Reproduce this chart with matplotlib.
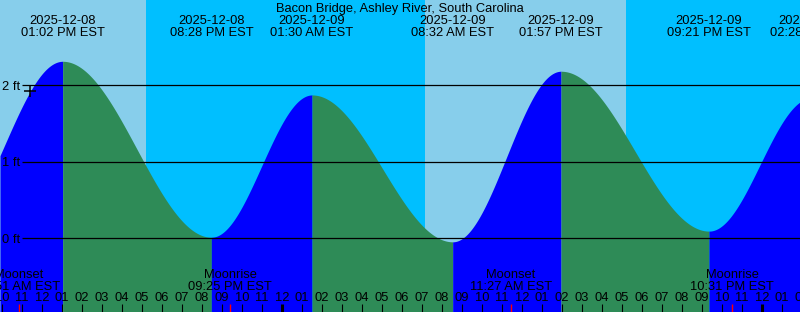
import matplotlib
matplotlib.use("Agg")
import matplotlib.pyplot as plt
import numpy as np

# hours counted from 2025-12-08 00:00 EST
title = "Bacon Bridge, Ashley River, South Carolina"

tide_hours = [7.20, 13.033, 20.467, 25.500, 32.533, 37.950, 45.350, 50.467]
tide_feet = [0.10, 2.31, 0.01, 1.87, -0.05, 2.18, 0.09, 1.83]
tide_dates = ["2025-12-08", "2025-12-08", "2025-12-08", "2025-12-09",
              "2025-12-09", "2025-12-09", "2025-12-09", "2025-12-10"]
tide_times = ["07:12 AM EST", "01:02 PM EST", "08:28 PM EST", "01:30 AM EST",
              "08:32 AM EST", "01:57 PM EST", "09:21 PM EST", "02:28 AM EST"]

sun_hours = [17.22, 31.17, 41.22]          # sunset, sunrise, sunset
moon_hours = [10.85, 21.417, 35.45, 46.517]
moon_names = ["Moonset", "Moonrise", "Moonset", "Moonrise"]
moon_times = ["10:51 AM EST", "09:25 PM EST", "11:27 AM EST", "10:31 PM EST"]

now_hour = 11.42
levels = [0, 1, 2]
level_labels = ["0 ft", "1 ft", "2 ft"]

t0, t1 = 9.9, 49.9
W, H = 800, 312
zero_px, px_per_ft = 238.0, 76.5

DAY = "#87CEEB"
NIGHT = "#00BFFF"
RISE = "#0000FF"
FALL = "#2E8B57"
FONT = "Liberation Sans"
FS = 9.3


def tide_at(t):
    # cosine between neighbouring high / low waters
    th = np.array(tide_hours)
    hf = np.array(tide_feet)
    i = np.clip(np.searchsorted(th, t) - 1, 0, len(th) - 2)
    f = (t - th[i]) / (th[i + 1] - th[i])
    return hf[i] + (hf[i + 1] - hf[i]) * (1 - np.cos(np.pi * f)) / 2


def yf(px):
    # pixel row -> axes fraction
    return 1 - px / H


fig = plt.figure(figsize=(W / 100, H / 100), dpi=100)
ax = fig.add_axes([0, 0, 1, 1])
ax.set_xlim(t0, t1)
ax.set_ylim((zero_px - H) / px_per_ft, zero_px / px_per_ft)
ax.axis("off")

# day / night background
edges = [t0] + sun_hours + [t1]
for k in range(len(edges) - 1):
    ax.axvspan(edges[k], edges[k + 1], color=DAY if k % 2 == 0 else NIGHT,
               lw=0, zorder=0, antialiased=False)

# tide fill, blue while rising, green while falling
bottom = ax.get_ylim()[0]
for k in range(len(tide_hours) - 1):
    a, b = max(tide_hours[k], t0), min(tide_hours[k + 1], t1)
    if a >= b:
        continue
    tt = np.linspace(a, b, 300)
    col = RISE if tide_feet[k + 1] > tide_feet[k] else FALL
    ax.fill_between(tt, bottom, tide_at(tt), color=col, lw=0, zorder=1, antialiased=False)

# datum lines
ax.hlines(levels, t0 + 22 / 20, t1, color="black", lw=0.9, zorder=2)
for lv, lab in zip(levels, level_labels):
    base = (zero_px - (zero_px - lv * px_per_ft + 4.7)) / px_per_ft
    ax.text(t0 + 2 / 20, base, lab, ha="left", va="baseline", fontsize=FS,
            family=FONT, zorder=3)

ax.plot([now_hour], [tide_at(now_hour)], marker="+", color="black", ms=8, mew=1.1, zorder=3)

tr = ax.get_xaxis_transform()
fig.text(0.5, yf(12), title, ha="center", va="baseline", fontsize=FS, family=FONT)

for th, d, tm in zip(tide_hours, tide_dates, tide_times):
    if th < t0:
        continue
    ax.text(th, yf(24), d, transform=tr, ha="center", va="baseline", fontsize=FS, family=FONT)
    ax.text(th, yf(36), tm, transform=tr, ha="center", va="baseline", fontsize=FS, family=FONT)

# hour ticks along the bottom
for h in range(int(np.ceil(t0)), int(t1) + 2):
    lw = 2.2 if h % 24 == 0 else 0.8
    ax.vlines(h, yf(H), yf(304), transform=tr, color="black", lw=lw, zorder=4, clip_on=False)
    lab = "%02d" % ((h - 1) % 12 + 1)
    ax.text(h, yf(301), lab, transform=tr, ha="center", va="baseline", fontsize=FS, family=FONT)

for mh, mn, mt in zip(moon_hours, moon_names, moon_times):
    ax.vlines(mh, yf(H), yf(304), transform=tr, color="red", lw=1.0, zorder=4)
    ax.text(mh, yf(278.5), mn, transform=tr, ha="center", va="baseline", fontsize=FS, family=FONT)
    ax.text(mh, yf(290), mt, transform=tr, ha="center", va="baseline", fontsize=FS, family=FONT)

fig.savefig("out.png", dpi=100)
